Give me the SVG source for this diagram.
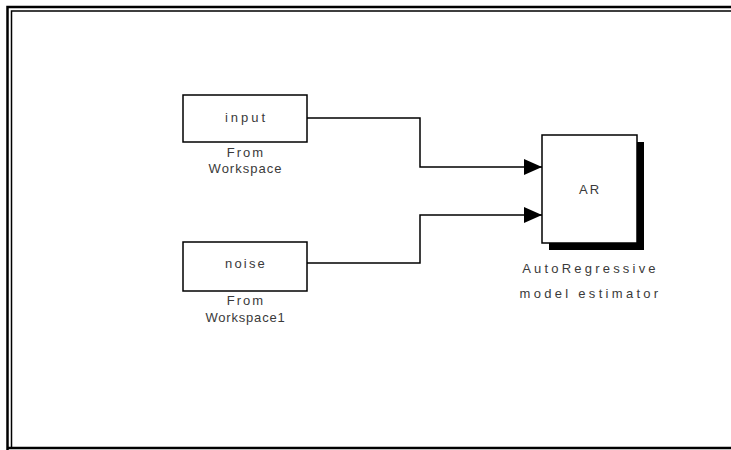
<svg xmlns="http://www.w3.org/2000/svg" width="731" height="450" viewBox="0 0 731 450">
<defs>
<style>
.blk{fill:#fff;stroke:#000;stroke-width:1.5}
.lbl{font-family:"Liberation Sans",Arial,sans-serif;font-size:13px;fill:#3a3a3a;text-anchor:middle}
.wire{fill:none;stroke:#000;stroke-width:1.5}
</style>
<marker id="tri" markerWidth="18" markerHeight="16" refX="18" refY="8" orient="auto" markerUnits="userSpaceOnUse" viewBox="0 0 18 16">
<path d="M0,0 L18,8 L0,16 Z" fill="#000"/>
</marker>
</defs>
<rect x="0" y="0" width="731" height="450" fill="#fff"/>
<g id="frame">
<path d="M7.5,450 V7 H731" fill="none" stroke="#000" stroke-width="2.5"/>
<path d="M11.5,448 V11 H731" fill="none" stroke="#000" stroke-width="1.5"/>
<line x1="7" y1="448" x2="731" y2="448" stroke="#000" stroke-width="2.5"/>
</g>
<g id="connectors">
<path class="wire" d="M307,118 H420 V167 H542" marker-end="url(#tri)"/>
<path class="wire" d="M307,263 H420 V215 H542" marker-end="url(#tri)"/>
</g>
<g id="input">
<rect class="blk" x="183" y="95" width="124" height="47"/>
<text class="lbl" x="246.5" y="122" letter-spacing="3">input</text>
<text class="lbl" x="246" y="157" letter-spacing="2">From</text>
<text class="lbl" x="245.5" y="173" letter-spacing="1">Workspace</text>
</g>
<g id="noise">
<rect class="blk" x="183" y="242" width="124" height="49"/>
<text class="lbl" x="246" y="268" letter-spacing="2.2">noise</text>
<text class="lbl" x="246" y="305" letter-spacing="2">From</text>
<text class="lbl" x="245.5" y="322" letter-spacing="0.8">Workspace1</text>
</g>
<g id="ar">
<rect x="549" y="142" width="95" height="108" fill="#000"/>
<rect class="blk" x="542" y="135" width="95" height="108"/>
<text class="lbl" x="590" y="194" letter-spacing="2">AR</text>
<text class="lbl" x="590.5" y="273" letter-spacing="3.2">AutoRegressive</text>
<text class="lbl" x="590.5" y="298" letter-spacing="3.3">model estimator</text>
</g>
</svg>
